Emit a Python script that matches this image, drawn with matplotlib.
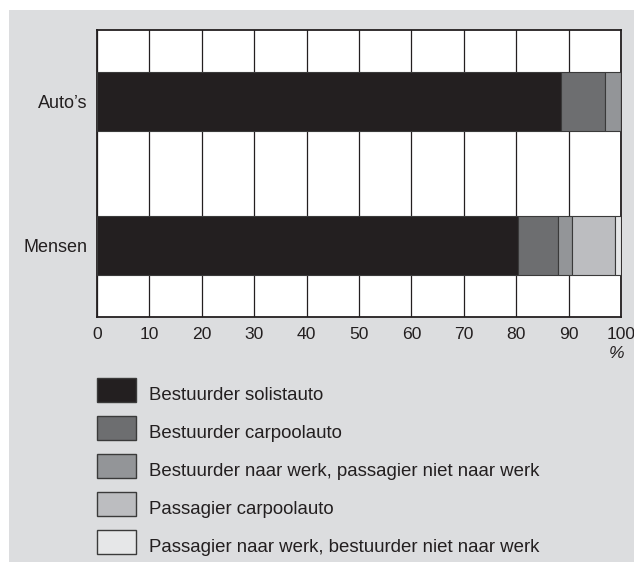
import matplotlib
matplotlib.use("Agg")
import matplotlib.pyplot as plt
from matplotlib.patches import Rectangle
import numpy as np

plt.rcParams['font.family'] = ['Liberation Sans', 'DejaVu Sans']

categories = ["Mensen", "Auto\u2019s"]
series_names = [
    "Bestuurder solistauto",
    "Bestuurder carpoolauto",
    "Bestuurder naar werk, passagier niet naar werk",
    "Passagier carpoolauto",
    "Passagier naar werk, bestuurder niet naar werk",
]
# values per series: [Mensen, Auto's]
solo = [80.4, 88.5]
carpool_driver = [7.6, 8.4]
driver_to_work = [2.7, 3.1]
passenger_carpool = [8.2, 0.0]
passenger_to_work = [1.1, 0.0]
series_values = [solo, carpool_driver, driver_to_work, passenger_carpool, passenger_to_work]
colors = ["#231f20", "#6d6e70", "#939598", "#bcbdc0", "#e6e7e8"]
xticks = [0, 10, 20, 30, 40, 50, 60, 70, 80, 90, 100]

W, H = 634, 562
FS = 12.6
FSL = 13.4
fig = plt.figure(figsize=(W / 100, H / 100), dpi=100, facecolor="white")
bg = "#dcdddf"
fig.patches.append(Rectangle((9 / W, 0), 1 - 9 / W, 1 - 10 / H, transform=fig.transFigure,
                             facecolor=bg, edgecolor="none", zorder=-10))

ax = fig.add_axes([97 / W, 1 - 317 / H, (621 - 97) / W, (317 - 30) / H])
ax.set_facecolor("white")
ypos = np.arange(len(categories))
left = np.zeros(len(categories))
for vals, col in zip(series_values, colors):
    v = np.array(vals)
    ax.barh(ypos, v, left=left, height=0.41, color=col, edgecolor="#3a3a3a",
            linewidth=0.8, zorder=3)
    left += v

ax.set_xlim(0, 100)
ax.set_ylim(-0.5, 1.5)
ax.set_xticks(xticks)
ax.set_xticklabels([str(t) for t in xticks], fontsize=FS, color="#231f20")
ax.set_yticks(ypos)
ax.set_yticklabels(categories, fontsize=13, color="#231f20")
ax.tick_params(length=0, pad=7)
ax.xaxis.grid(True, color="#231f20", linewidth=0.9, zorder=1)
ax.set_axisbelow(True)
for s in ax.spines.values():
    s.set_color("#231f20")
    s.set_linewidth(1.3)

fig.text(624 / W, 1 - 354 / H, "%", fontsize=FS, color="#231f20", ha="right", va="center",
         style="italic")

# legend
for i, (name, col) in enumerate(zip(series_names, colors)):
    y_top = 378 + i * 38
    fig.patches.append(Rectangle((97 / W, 1 - (y_top + 24) / H), 39 / W, 24 / H,
                                 transform=fig.transFigure, facecolor=col,
                                 edgecolor="#3a3a3a", linewidth=1.0))
    fig.text(149 / W, 1 - (y_top + 17) / H, name, fontsize=FSL, color="#231f20",
             ha="left", va="center")

fig.savefig("out.png", dpi=100, facecolor=fig.get_facecolor())
